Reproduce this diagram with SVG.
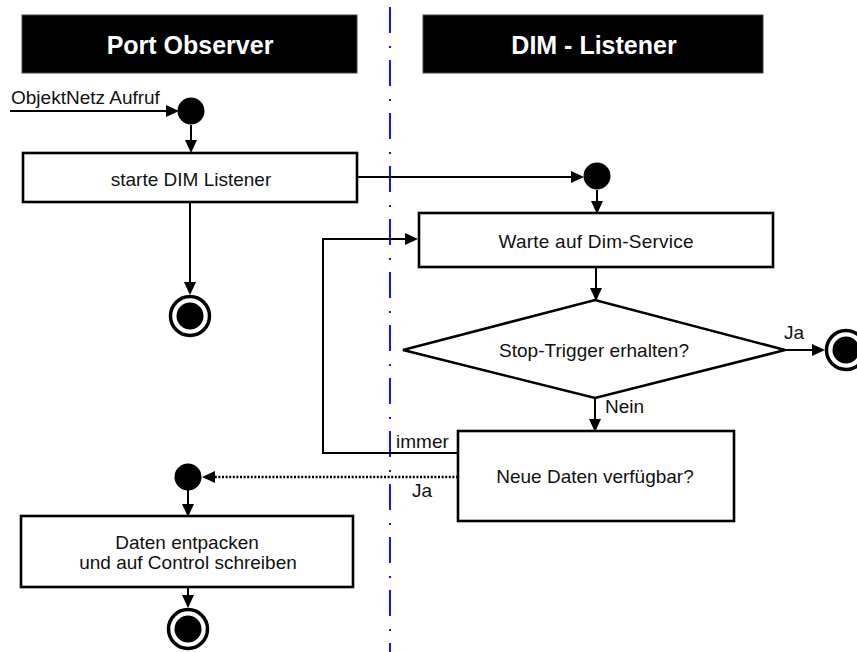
<svg xmlns="http://www.w3.org/2000/svg" width="857" height="652" viewBox="0 0 857 652">
  <defs>
    <marker id="arrow" markerUnits="userSpaceOnUse" markerWidth="13" markerHeight="12" viewBox="0 0 13 12" refX="10" refY="6" orient="auto">
      <path d="M0,0 L13,6 L0,12 z" fill="#000"/>
    </marker>
    <style>
      .lane-head { fill: #000; stroke: #444; stroke-width: 1; }
      .lane-title { font-family: "Liberation Sans", Arial, sans-serif; font-weight: bold; font-size: 25px; fill: #fff; text-anchor: middle; }
      .action { fill: #fff; stroke: #000; stroke-width: 2.6; }
      .label { font-family: "Liberation Sans", Arial, sans-serif; font-size: 19px; fill: #111; }
      .mid { text-anchor: middle; }
      .flow { fill: none; stroke: #000; stroke-width: 2; marker-end: url(#arrow); }
      .dotted { stroke-width: 2.5; stroke-dasharray: 2 1.6; }
      .start { fill: #000; }
      .end-ring { fill: #fff; stroke: #000; stroke-width: 3.5; }
      .end-dot { fill: #000; }
      .divider { stroke: #1414ff; stroke-width: 2; stroke-dasharray: 26 13 2 12; fill: none; }
    </style>
  </defs>

  <rect width="857" height="652" fill="#fff"/>

  <!-- swimlane divider -->
  <line class="divider" x1="390" y1="7" x2="390" y2="652"/>

  <!-- lane headers -->
  <g id="lane-port-observer">
    <rect class="lane-head" x="22" y="15" width="335" height="58"/>
    <text class="lane-title" x="190" y="54">Port Observer</text>
  </g>
  <g id="lane-dim-listener">
    <rect class="lane-head" x="423" y="15" width="340" height="58"/>
    <text class="lane-title" x="594" y="54">DIM - Listener</text>
  </g>

  <!-- connectors -->
  <g id="connectors">
    <path class="flow" d="M10,111 L176,111"/>
    <path class="flow" d="M191,125 L191,150"/>
    <path class="flow" d="M357,177 L581,177"/>
    <path class="flow" d="M190,202 L190,292"/>
    <path class="flow" d="M597,190 L597,211"/>
    <path class="flow" d="M596,267 L596,298"/>
    <path class="flow" d="M785,350 L822,350"/>
    <path class="flow" d="M595,397 L595,429"/>
    <path class="flow" d="M458,453 L323,453 L323,239 L415,239"/>
    <path class="flow dotted" d="M458,477 L205,477"/>
    <path class="flow" d="M188,490 L188,514"/>
    <path class="flow" d="M188,587 L188,605"/>

    <text class="label" x="11" y="104">ObjektNetz Aufruf</text>
    <text class="label" x="784" y="339">Ja</text>
    <text class="label" x="605" y="413">Nein</text>
    <text class="label" x="396" y="448">immer</text>
    <text class="label" x="412" y="497">Ja</text>
  </g>

  <!-- Port Observer lane -->
  <g id="start-observer">
    <circle class="start" cx="191" cy="111" r="13.5"/>
  </g>
  <g id="starte-dim-listener">
    <rect class="action" x="23" y="153" width="334" height="49"/>
    <text class="label mid" x="191" y="186">starte DIM Listener</text>
  </g>
  <g id="end-observer">
    <circle class="end-ring" cx="190" cy="316" r="19.5"/>
    <circle class="end-dot" cx="190" cy="316" r="13.5"/>
  </g>
  <g id="start-daten">
    <circle class="start" cx="188" cy="477" r="13.5"/>
  </g>
  <g id="daten-entpacken">
    <rect class="action" x="21" y="516" width="332" height="71"/>
    <text class="label mid" x="187" y="549">Daten entpacken</text>
    <text class="label mid" x="188" y="569">und auf Control schreiben</text>
  </g>
  <g id="end-daten">
    <circle class="end-ring" cx="188" cy="629" r="19.5"/>
    <circle class="end-dot" cx="188" cy="629" r="13.5"/>
  </g>

  <!-- DIM - Listener lane -->
  <g id="start-listener">
    <circle class="start" cx="597" cy="176" r="13.5"/>
  </g>
  <g id="warte-auf-dim-service">
    <rect class="action" x="419" y="213" width="354" height="54"/>
    <text class="label mid" x="596" y="248" textLength="195">Warte auf Dim-Service</text>
  </g>
  <g id="stop-trigger">
    <polygon class="action" points="403,350 595,300 785,350 595,398"/>
    <text class="label mid" x="594" y="357" textLength="190">Stop-Trigger erhalten?</text>
  </g>
  <g id="end-listener">
    <circle class="end-ring" cx="846" cy="350" r="19.5"/>
    <circle class="end-dot" cx="846" cy="350" r="13.5"/>
  </g>
  <g id="neue-daten">
    <rect class="action" x="458" y="431" width="276" height="90"/>
    <text class="label mid" x="595" y="483">Neue Daten verfügbar?</text>
  </g>
</svg>
